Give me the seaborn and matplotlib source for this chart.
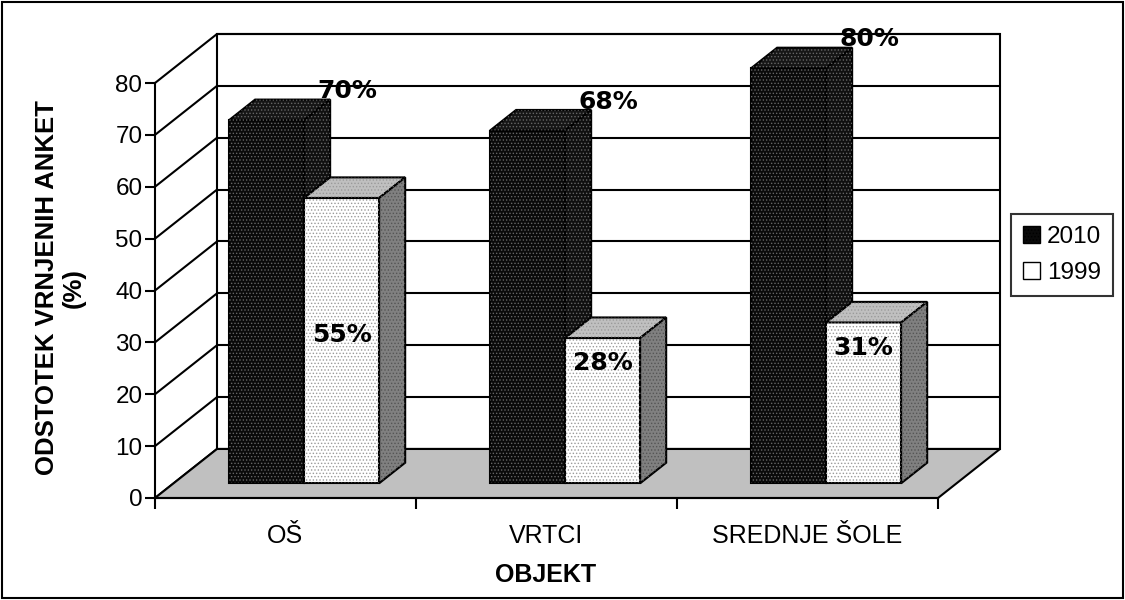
import numpy as np
import pandas as pd
import matplotlib
matplotlib.use('Agg')
import matplotlib.pyplot as plt
import seaborn as sns
from matplotlib.patches import Polygon, Rectangle, Patch

# data
objekti = ['OŠ', 'VRTCI', 'SREDNJE ŠOLE']
leta = ['2010', '1999']
vrednosti_2010 = [70, 68, 80]
vrednosti_1999 = [55, 28, 31]
yticks = list(range(0, 90, 10))

df = pd.DataFrame({
    'objekt': objekti * 2,
    'leto': [leta[0]] * 3 + [leta[1]] * 3,
    'vrednost': vrednosti_2010 + vrednosti_1999,
})

sns.set_style('white')
plt.rcParams['font.family'] = ['Liberation Sans', 'DejaVu Sans']
plt.rcParams['hatch.linewidth'] = 0.6
for key in ['text.color', 'axes.labelcolor', 'xtick.color', 'ytick.color']:
    plt.rcParams[key] = 'black'

fig = plt.figure(figsize=(11.25, 6), dpi=100)
ax = fig.add_axes([155 / 1125, 102 / 600, 783 / 1125, 415 / 600])

sns.barplot(data=df, x='objekt', y='vrednost', hue='leto', order=objekti,
            hue_order=leta, palette=['#0a0a0a', '#ffffff'], width=0.575,
            saturation=1, legend=False, ax=ax)

ax.set_xlim(-0.5, 2.5)
ax.set_ylim(0, 80)

# 3d look: depth of the floor and of the bars (data units)
DX, DY = 62 / 261, 9.45
f0, f1 = 0.30, 0.72
bx, by = (f1 - f0) * DX, (f1 - f0) * DY

kw = dict(clip_on=False)
# back wall, gridlines, left wall
ax.add_patch(Rectangle((-0.5 + DX, DY), 3, 80, fc='white', ec='black', lw=1.5, zorder=0.5, **kw))
for v in yticks:
    ax.plot([-0.5 + DX, 2.5 + DX], [v + DY, v + DY], color='black', lw=1.5, zorder=0.55, **kw)
    ax.plot([-0.5, -0.5 + DX], [v, v + DY], color='black', lw=1.5, zorder=0.55, **kw)
# floor
ax.add_patch(Polygon([(-0.5, 0), (2.5, 0), (2.5 + DX, DY), (-0.5 + DX, DY)],
                     closed=True, fc='#c0c0c0', ec='black', lw=1.5, zorder=0.6, **kw))

face_cols = {0: ('#0a0a0a', '#161616', '#101010', '#666666'),
             1: ('#ffffff', '#c0c0c0', '#808080', '#9a9a9a')}

def dots(poly_xy, col, z):
    ax.add_patch(Polygon(poly_xy, closed=True, fc='none', ec=col, lw=0,
                         hatch='.....', zorder=z, **kw))

for k, cont in enumerate(ax.containers):
    front, top, side, dotc = face_cols[k]
    z = 2 + k
    for rect in cont:
        x = rect.get_x() + f0 * DX
        w = rect.get_width()
        h = rect.get_height()
        y0 = f0 * DY
        rect.set_x(x)
        rect.set_y(y0)
        rect.set_facecolor(front)
        rect.set_edgecolor('black')
        rect.set_linewidth(1.5)
        rect.set_zorder(z)
        rect.set_clip_on(False)
        dots([(x, y0), (x + w, y0), (x + w, y0 + h), (x, y0 + h)], dotc, z + 0.01)
        tp = [(x, y0 + h), (x + w, y0 + h), (x + w + bx, y0 + h + by), (x + bx, y0 + h + by)]
        sd = [(x + w, y0), (x + w + bx, y0 + by), (x + w + bx, y0 + h + by), (x + w, y0 + h)]
        ax.add_patch(Polygon(tp, closed=True, fc=top, ec='black', lw=1.5, zorder=z, **kw))
        ax.add_patch(Polygon(sd, closed=True, fc=side, ec='black', lw=1.5, zorder=z, **kw))
        dots(tp, dotc, z + 0.01)
        dots(sd, '#555555' if k == 1 else dotc, z + 0.01)
        # data labels
        cx = x + w / 2
        if k == 0:
            ax.text(cx + 0.31, h + 8.4, f'{h:.0f}%', ha='center', va='center',
                    fontsize=18, fontweight='bold', family='DejaVu Sans', zorder=6)
        else:
            ax.text(cx, min(h - 2, 31.5), f'{h:.0f}%', ha='center', va='center',
                    fontsize=18, fontweight='bold', family='DejaVu Sans', zorder=6)

# axes styling
for s in ['top', 'right']:
    ax.spines[s].set_visible(False)
for s in ['left', 'bottom']:
    ax.spines[s].set_linewidth(1.5)
    ax.spines[s].set_color('black')
    ax.spines[s].set_zorder(7)

ax.set_yticks(yticks)
ax.tick_params(axis='y', direction='out', length=7, width=1.5, pad=2, labelsize=17.5, left=True)
ax.set_xticks([-0.5, 0.5, 1.5, 2.5])
ax.set_xticklabels([])
ax.set_xticks(range(len(objekti)), minor=True)
ax.set_xticklabels(objekti, minor=True)
ax.tick_params(axis='x', which='major', direction='out', length=8, width=1.5, bottom=True)
ax.tick_params(axis='x', which='minor', length=0, pad=19, labelsize=18)
ax.set_xlabel('')
ax.set_ylabel('')

fig.text(546 / 1125, 1 - 575 / 600, 'OBJEKT', ha='center', va='center',
         fontsize=18, fontweight='bold')
fig.text(60 / 1125, 1 - 288 / 600, 'ODSTOTEK VRNJENIH ANKET\n(%)', rotation=90,
         ha='center', va='center', multialignment='center', fontsize=18.5,
         fontweight='bold', linespacing=1.15)

handles = [Patch(fc='#0a0a0a', ec='black', hatch='.....'),
           Patch(fc='white', ec='black')]
leg = fig.legend(handles, leta, loc='center', bbox_to_anchor=(1062 / 1125, 1 - 255 / 600),
                 fontsize=17.5, frameon=True, fancybox=False, edgecolor='black',
                 handlelength=0.7, handleheight=0.7, handletextpad=0.3,
                 borderpad=0.5, labelspacing=0.6, borderaxespad=0)
leg.get_frame().set_linewidth(1.5)

# outer frame
fig.patches.append(Rectangle((0.002, 0.003), 0.996, 0.994, transform=fig.transFigure,
                             fill=False, ec='black', lw=1.5))

fig.savefig('out.png', dpi=100)
